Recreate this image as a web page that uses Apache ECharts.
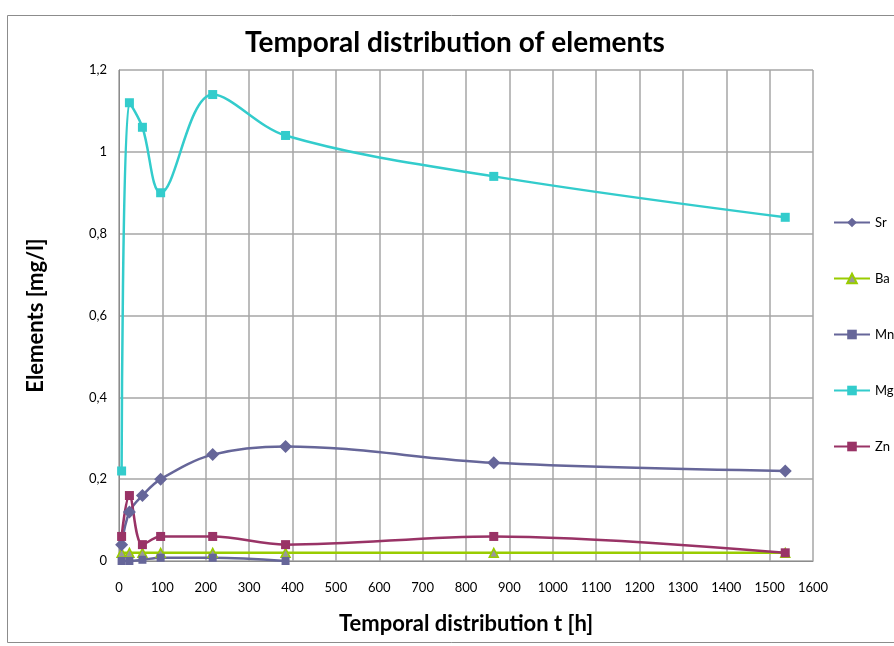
<!DOCTYPE html>
<html>
<head>
<meta charset="utf-8">
<script src="https://cdn.jsdelivr.net/npm/echarts@6/dist/echarts.min.js"></script>
<style>
html,body{margin:0;padding:0;background:#fff;}
#chart{width:894px;height:646px;}
</style>
</head>
<body>
<div id="chart"></div>
<script>
const times = [6, 24, 54, 96, 216, 384, 864, 1536];
const mnTimes = [6, 24, 54, 96, 216, 384];
const sr = [0.04, 0.12, 0.16, 0.20, 0.26, 0.28, 0.24, 0.22];
const ba = [0.02, 0.02, 0.02, 0.02, 0.02, 0.02, 0.02, 0.02];
const mn = [0, 0, 0.003, 0.008, 0.008, 0];
const mg = [0.22, 1.12, 1.06, 0.90, 1.14, 1.04, 0.94, 0.84];
const zn = [0.06, 0.16, 0.04, 0.06, 0.06, 0.04, 0.06, 0.02];
const names = ['Sr', 'Ba', 'Mn', 'Mg', 'Zn'];

function pairs(xs, ys){ return xs.map((x,i)=>[x, ys[i]]); }

const FONT = 'Lato';
const chart = echarts.init(document.getElementById('chart'));
const smoothVal = 0.35;
chart.setOption({
  backgroundColor: '#fff',
  animation: false,
  graphic: [{
    type: 'rect', left: 5, top: 13, z: -1,
    shape: {width: 900, height: 627},
    style: {fill: 'none', stroke: '#8c8c8c', lineWidth: 1}
  }],
  title: {
    text: 'Temporal distribution of elements',
    left: 240, top: 24,
    textStyle: {fontFamily: FONT, fontSize: 28, fontWeight: 'bold', color: '#000'}
  },
  legend: {
    orient: 'vertical',
    left: 828, top: 211,
    itemGap: 43,
    itemWidth: 36, itemHeight: 12,
    data: names,
    textStyle: {fontFamily: FONT, fontSize: 13, color: '#000'}
  },
  grid: {left: 119, right: 81, top: 70, bottom: 85, containLabel: false},
  xAxis: {
    type: 'value', min: 0, max: 1600, interval: 100,
    name: 'Temporal distribution t [h]',
    nameLocation: 'middle', nameGap: 52,
    nameTextStyle: {fontFamily: FONT, fontSize: 22, fontWeight: 'bold', color: '#000'},
    axisLine: {show: true, lineStyle: {color: '#8c8c8c', width: 1}},
    axisTick: {show: false},
    axisLabel: {fontFamily: FONT, fontSize: 13, color: '#000', margin: 20,
      formatter: v => String(v)},
    splitLine: {show: true, lineStyle: {color: '#a6a6a6', width: 1.5}}
  },
  yAxis: {
    type: 'value', min: 0, max: 1.2, interval: 0.2,
    name: 'Elements [mg/l]',
    nameLocation: 'middle', nameGap: 72, nameRotate: 90,
    nameTextStyle: {fontFamily: FONT, fontSize: 22, fontWeight: 'bold', color: '#000'},
    axisLine: {show: true, lineStyle: {color: '#8c8c8c', width: 1}},
    axisTick: {show: false},
    axisLabel: {fontFamily: FONT, fontSize: 13, color: '#000', margin: 12,
      formatter: v => String(Math.round(v*10)/10).replace('.', ',')},
    splitLine: {show: true, lineStyle: {color: '#a6a6a6', width: 1.5}}
  },
  series: [
    {name: 'Sr', type: 'line', data: pairs(times, sr), smooth: smoothVal,
     symbol: 'diamond', symbolSize: 13,
     itemStyle: {color: '#666699'}, lineStyle: {color: '#666699', width: 2.5}, z: 3},
    {name: 'Ba', type: 'line', data: pairs(times, ba), smooth: smoothVal,
     symbol: 'triangle', symbolSize: 9,
     itemStyle: {color: '#999999', borderColor: '#99cc00', borderWidth: 1.5},
     lineStyle: {color: '#99cc00', width: 2.5}, z: 2},
    {name: 'Mn', type: 'line', data: pairs(mnTimes, mn), smooth: smoothVal,
     symbol: 'rect', symbolSize: 8,
     itemStyle: {color: '#666699'}, lineStyle: {color: '#666699', width: 2.5}, z: 2},
    {name: 'Mg', type: 'line', data: pairs(times, mg), smooth: smoothVal,
     symbol: 'rect', symbolSize: 9,
     itemStyle: {color: '#33cccc'}, lineStyle: {color: '#33cccc', width: 2.5}, z: 3},
    {name: 'Zn', type: 'line', data: pairs(times, zn), smooth: smoothVal,
     symbol: 'rect', symbolSize: 9,
     itemStyle: {color: '#993366'}, lineStyle: {color: '#993366', width: 2.5}, z: 3}
  ]
});
</script>
</body>
</html>
